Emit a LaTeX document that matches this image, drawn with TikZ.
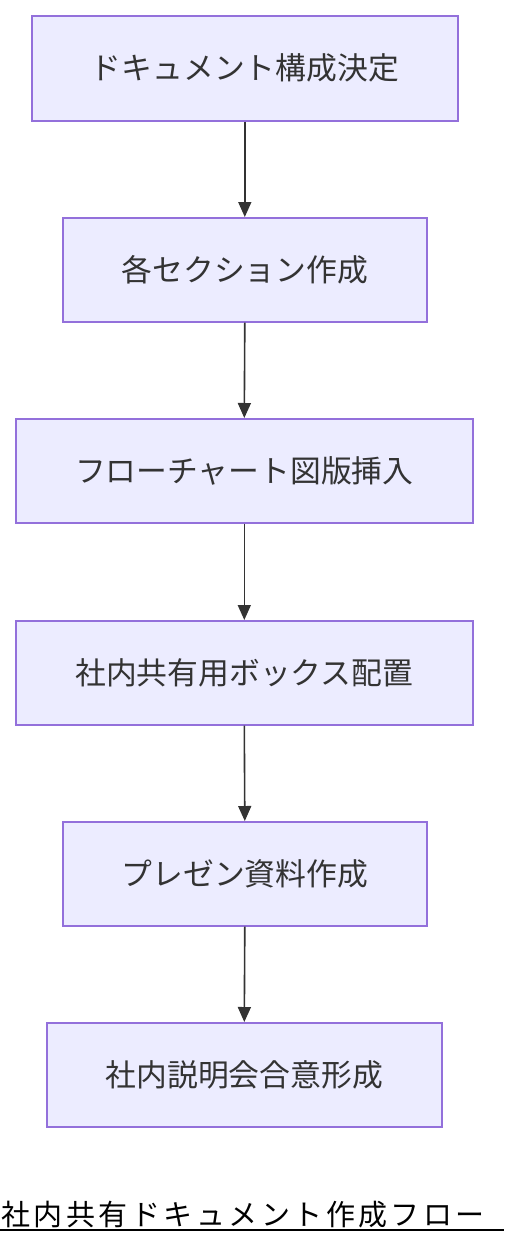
\documentclass[tikz,border=0pt]{standalone}
\usepackage{fontspec}
\setmainfont{Noto Sans CJK JP}
\newfontfamily\titlefont[LetterSpace=12]{Noto Sans CJK JP}
\usetikzlibrary{arrows.meta}
\definecolor{boxfill}{HTML}{ECECFF}
\definecolor{boxline}{HTML}{9370DB}
\definecolor{txt}{HTML}{333333}
\begin{document}
\begin{tikzpicture}[x=1pt,y=-1pt,
  flowbox/.style={draw=boxline,fill=boxfill,line width=1.6pt,text=txt,
    font=\fontsize{30.8}{36}\selectfont,inner sep=0pt,anchor=north west},
  flowarrow/.style={draw=txt,line width=1.6pt,-{Triangle[width=13pt,length=15pt]}}]
\useasboundingbox (0,0) rectangle (504,1244);
\node[flowbox,minimum width=426pt,minimum height=105pt] (a) at (31,15) {ドキュメント構成決定};
\node[flowbox,minimum width=364pt,minimum height=104pt] (b) at (62,217) {各セクション作成};
\node[flowbox,minimum width=457pt,minimum height=104pt] (c) at (15,418) {フローチャート図版挿入};
\node[flowbox,minimum width=457pt,minimum height=104pt] (d) at (15,620) {社内共有用ボックス配置};
\node[flowbox,minimum width=364pt,minimum height=104pt] (e) at (62,821) {プレゼン資料作成};
\node[flowbox,minimum width=395pt,minimum height=104pt] (f) at (46,1022) {社内説明会合意形成};
\draw[flowarrow] (a.south) -- (b.north);
\draw[flowarrow] (b.south) -- (c.north);
\draw[flowarrow] (c.south) -- (d.north);
\draw[flowarrow] (d.south) -- (e.north);
\draw[flowarrow] (e.south) -- (f.north);
\node[anchor=base west,inner sep=0pt,font=\titlefont\fontsize{29}{33}\selectfont] (t) at (1,1225) {社内共有ドキュメント作成フロー};
\coordinate (u1) at (0,1230);
\coordinate (u2) at (504,1230);
\draw[line width=1.5pt,black] (u1) -- (u2);
\end{tikzpicture}
\end{document}
